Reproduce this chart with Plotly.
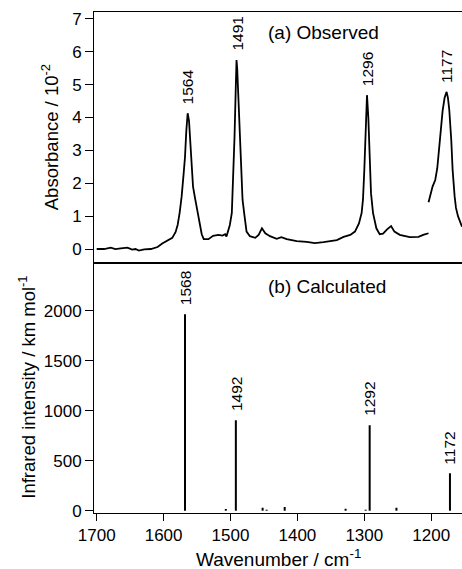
import numpy as np
import plotly.graph_objects as go
from plotly.subplots import make_subplots

# ---------------- data ----------------
# (a) observed spectrum, first segment (wavenumber / cm-1, absorbance / 1e-2)
obs_wn1 = [1700, 1689, 1679, 1672, 1664, 1654, 1647, 1642, 1637, 1629, 1619, 1609,
           1602, 1595, 1587, 1582, 1579, 1576, 1573, 1570, 1568, 1566, 1564, 1562,
           1560, 1558, 1556, 1553, 1550, 1546, 1543, 1540, 1533, 1526, 1518, 1512,
           1508, 1506, 1501, 1498, 1496, 1494, 1492, 1491, 1490, 1488, 1486, 1484,
           1482, 1479, 1476, 1471, 1463, 1458, 1453, 1448, 1441, 1431, 1424, 1416,
           1401, 1386, 1374, 1361, 1351, 1341, 1331, 1321, 1314, 1308, 1304, 1302,
           1300, 1298, 1296, 1294, 1292, 1290, 1287, 1282, 1277, 1272, 1266, 1260,
           1255, 1247, 1232, 1219, 1212, 1204]
obs_abs1 = [0.00, 0.00, 0.04, 0.00, 0.02, 0.04, -0.02, 0.00, -0.05, -0.01, 0.00, 0.06,
            0.17, 0.24, 0.34, 0.52, 0.73, 1.10, 1.60, 2.30, 2.80, 3.60, 4.13, 3.90,
            3.30, 2.60, 1.90, 1.55, 1.20, 0.73, 0.45, 0.30, 0.30, 0.40, 0.43, 0.41,
            0.45, 0.38, 0.73, 1.10, 2.00, 3.40, 5.00, 5.75, 5.50, 4.60, 3.50, 2.30,
            1.50, 1.00, 0.53, 0.39, 0.34, 0.43, 0.63, 0.48, 0.39, 0.31, 0.36, 0.30,
            0.24, 0.22, 0.18, 0.21, 0.23, 0.27, 0.37, 0.43, 0.53, 0.78, 1.10, 1.50,
            2.40, 3.50, 4.68, 4.00, 2.90, 1.70, 1.10, 0.63, 0.45, 0.47, 0.60, 0.70,
            0.53, 0.43, 0.36, 0.37, 0.43, 0.48]
# (a) observed spectrum, second segment
obs_wn2 = [1204, 1198, 1194, 1191, 1188, 1183, 1180, 1177, 1175, 1173, 1170, 1168,
           1165, 1163, 1160, 1157, 1154]
obs_abs2 = [1.42, 1.90, 2.10, 2.45, 3.10, 4.20, 4.60, 4.78, 4.60, 4.23, 3.30, 2.40,
            1.60, 1.25, 1.00, 0.86, 0.68]
obs_labels = [1564, 1491, 1296, 1177]

# (b) calculated stick spectrum (wavenumber / cm-1, intensity / km mol-1)
calc_wn = [1568, 1507, 1492, 1452, 1446, 1419, 1328, 1298, 1292, 1252, 1172]
calc_int = [1965, 17, 905, 30, 10, 37, 20, 10, 855, 30, 375]
calc_labels = [1568, 1492, 1292, 1172]

# axis ticks
abs_ticks = [0, 1, 2, 3, 4, 5, 6, 7]
int_ticks = [0, 500, 1000, 1500, 2000]
wn_ticks = [1700, 1600, 1500, 1400, 1300, 1200]

# ---------------- figure ----------------
FONT = "Liberation Sans, Arial, Helvetica, sans-serif"
fig = make_subplots(rows=2, cols=1, shared_xaxes=True, vertical_spacing=0)

fig.add_trace(go.Scatter(x=obs_wn1, y=obs_abs1, mode="lines",
                         line=dict(color="black", width=1.8), showlegend=False),
              row=1, col=1)
fig.add_trace(go.Scatter(x=obs_wn2, y=obs_abs2, mode="lines",
                         line=dict(color="black", width=1.8), showlegend=False),
              row=1, col=1)

sx, sy = [], []
for w, h in zip(calc_wn, calc_int):
    sx += [w, w, None]
    sy += [0, h, None]
fig.add_trace(go.Scatter(x=sx, y=sy, mode="lines",
                         line=dict(color="black", width=2), showlegend=False),
              row=2, col=1)

annotations = []
all_wn = np.array(obs_wn1 + obs_wn2, dtype=float)
all_abs = np.array(obs_abs1 + obs_abs2, dtype=float)
for lab in obs_labels:
    m = np.abs(all_wn - lab) <= 4
    peak = float(all_abs[m].max())
    annotations.append(dict(x=lab, y=peak, xref="x", yref="y", text=str(lab),
                            showarrow=False, textangle=-90, yanchor="bottom",
                            xanchor="center", yshift=7,
                            font=dict(family=FONT, size=15.5, color="black")))
for lab in calc_labels:
    h = calc_int[calc_wn.index(lab)]
    annotations.append(dict(x=lab, y=h, xref="x2", yref="y2", text=str(lab),
                            showarrow=False, textangle=-90, yanchor="bottom",
                            xanchor="center", yshift=7,
                            font=dict(family=FONT, size=15.5, color="black")))

annotations.append(dict(x=1447, y=6.6, xref="x", yref="y", text="(a) Observed",
                        showarrow=False, xanchor="left", yanchor="middle",
                        font=dict(family=FONT, size=19, color="black")))
annotations.append(dict(x=1447, y=2247, xref="x2", yref="y2", text="(b) Calculated",
                        showarrow=False, xanchor="left", yanchor="middle",
                        font=dict(family=FONT, size=19, color="black")))
# axis titles
annotations.append(dict(x=0, y=0.75, xref="paper", yref="paper",
                        text="Absorbance / 10<sup>-2</sup>", showarrow=False,
                        textangle=-90, xanchor="center", yanchor="middle", xshift=-44,
                        font=dict(family=FONT, size=18.5, color="black")))
annotations.append(dict(x=0, y=0.25, xref="paper", yref="paper",
                        text="Infrared intensity / km mol<sup>-1</sup>", showarrow=False,
                        textangle=-90, xanchor="center", yanchor="middle", xshift=-67,
                        font=dict(family=FONT, size=18.5, color="black")))
annotations.append(dict(x=0.5, y=0, xref="paper", yref="paper",
                        text="Wavenumber / cm<sup>-1</sup>", showarrow=False,
                        xanchor="center", yanchor="middle", yshift=-45,
                        font=dict(family=FONT, size=19, color="black")))

axis_common = dict(showgrid=False, zeroline=False, showline=True, linecolor="black",
                   linewidth=1, tickcolor="black", tickwidth=1,
                   tickfont=dict(family=FONT, size=17, color="black"))

fig.update_layout(
    width=462, height=569,
    margin=dict(l=94, r=0, t=12, b=56),
    paper_bgcolor="white", plot_bgcolor="white",
    annotations=annotations,
    showlegend=False,
)
fig.update_xaxes(**axis_common, range=[1704, 1154], mirror=True)
fig.update_xaxes(row=1, col=1, ticks="", showticklabels=False)
fig.update_xaxes(row=2, col=1, ticks="outside", ticklen=7, tickvals=wn_ticks)
fig.update_yaxes(**axis_common, ticks="outside", ticklen=8)
fig.update_yaxes(row=1, col=1, range=[-0.41, 7.21], tickvals=abs_ticks, domain=[0.5, 1])
fig.update_yaxes(row=2, col=1, range=[-23, 2482], tickvals=int_ticks, domain=[0, 0.5])

fig.write_html(
    "out.html",
    config={"displayModeBar": False},
    post_script="document.body.style.margin='0';document.body.style.padding='0';"
                "document.body.style.overflow='hidden';",
)
